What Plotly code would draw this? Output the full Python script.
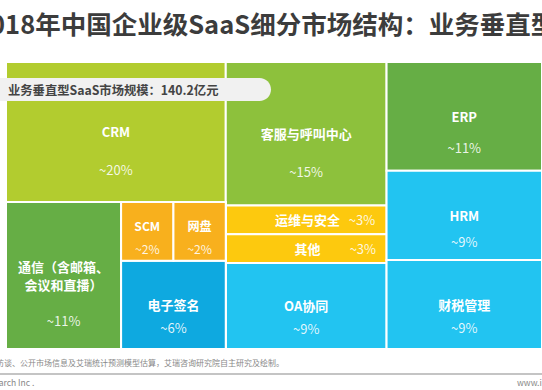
import plotly.graph_objects as go

W, H = 542, 390

# ---------------- data ----------------
cell_names = ["CRM", "客服与呼叫中心", "ERP", "HRM", "通信（含邮箱、会议和直播）",
              "SCM", "网盘", "电子签名", "运维与安全", "其他", "OA协同", "财税管理"]
cell_shares = [20, 15, 11, 9, 11, 2, 2, 6, 3, 3, 9, 9]
cell_parents = ["c1", "c2", "c3", "c3", "c1b", "c1d", "c1d", "c1c", "c2", "c2", "c2", "c3"]

# grouping nodes used to reproduce the hand-made layout (values = sum of children)
group_ids = ["total", "c1", "c1b", "c1c", "c1d", "c2", "c3"]
group_parents = ["", "total", "c1", "c1b", "c1c", "total", "total"]

# order in which the tiles are laid out (left->right, top->bottom)
layout_order = ["total", "c1", "CRM", "c1b", "通信（含邮箱、会议和直播）", "c1c", "c1d",
                "SCM", "网盘", "电子签名", "c2", "客服与呼叫中心", "运维与安全", "其他",
                "OA协同", "c3", "ERP", "HRM", "财税管理"]

title_text = "2018年中国企业级SaaS细分市场结构：业务垂直型SaaS"
badge_text = "业务垂直型SaaS市场规模：140.2亿元"
source_text = "来源：艾瑞咨询根据企业访谈、公开市场信息及艾瑞统计预测模型估算，艾瑞咨询研究院自主研究及绘制。"

# ---------------- styles ----------------
LIME = "#B2CC2F"
YGREEN = "#8DC13C"
GREEN = "#66AE45"
ORANGE = "#F8B01D"
YELLOW = "#FDC90E"
BLUE = "#0EA9E0"
CYAN = "#22C4F1"
cell_colors = [LIME, YGREEN, GREEN, CYAN, GREEN, ORANGE, ORANGE, BLUE, YELLOW, YELLOW, CYAN, CYAN]
# base font size per cell -> controls line spacing between label and value
cell_base = [14.6, 14.6, 11.9, 10, 13.8, 9.6, 9.6, 8.85, 13, 13, 8.85, 8.85]
# invisible leading lines -> pushes the text block below the tile centre
cell_lead = [2, 2, 2, 2, 2, 1, 1, 2, 0, 0, 2, 2]
LAB = 13
NB = "\u00a0"
FILL = f"<span style='font-size:{LAB}px;color:rgba(0,0,0,0)'>.</span><br>"


def cell_text(name, share, lead):
    val = f"<span style='font-size:{LAB}px;color:rgba(255,255,255,0.88)'>~{share}%</span>"
    if name == "运维与安全":
        return NB * 13 + f"<span style='font-size:{LAB}px'><b>{name}</b></span>" + NB * 3 + val
    if name == "其他":
        return NB * 20 + f"<span style='font-size:{LAB}px'><b>{name}</b></span>" + NB * 10 + val
    pre = FILL * lead
    if "、" in name:
        a, b = name.split("、")
        return (pre + f"<span style='font-size:{LAB}px'><b>{a}、</b></span><br>"
                f"<span style='font-size:{LAB}px'><b>{b}</b></span><br><br>" + val)
    return pre + f"<span style='font-size:{LAB}px'><b>{name}</b></span><br><br>" + val


node = {}
for g, p in zip(group_ids, group_parents):
    node[g] = dict(parent=p, value=0, text="", color="#FFFFFF", size=10)
for n, s, p, c, b, ld in zip(cell_names, cell_shares, cell_parents, cell_colors, cell_base, cell_lead):
    node[n] = dict(parent=p, value=s, text=cell_text(n, s, ld), color=c, size=b)

ids = layout_order
fig = go.Figure(go.Treemap(
    ids=ids,
    labels=ids,
    parents=[node[i]["parent"] for i in ids],
    values=[node[i]["value"] for i in ids],
    branchvalues="remainder",
    sort=False,
    text=[node[i]["text"] for i in ids],
    texttemplate="%{text}",
    textposition="middle center",
    textfont=dict(family="Noto Sans CJK SC", color="white", size=[node[i]["size"] for i in ids]),
    marker=dict(colors=[node[i]["color"] for i in ids], line=dict(color="white", width=2),
                pad=dict(t=0, l=0, r=0, b=0)),
    tiling=dict(packing="slice-dice", pad=0),
    pathbar=dict(visible=False),
    hoverinfo="skip",
    domain=dict(x=[6 / W, 1], y=[(H - 349) / H, (H - 62) / H]),
))


def px(x):
    return x / W


def py(y):
    return 1 - y / H


# rounded badge
x0, x1, y0, y1, r = -2, 271, 78, 101, 11.5
k = 0.552 * r
path = (f"M {px(x0)},{py(y0)} L {px(x1 - r)},{py(y0)} "
        f"C {px(x1 - r + k)},{py(y0)} {px(x1)},{py(y0 + r - k)} {px(x1)},{py(y0 + r)} "
        f"C {px(x1)},{py(y1 - r + k)} {px(x1 - r + k)},{py(y1)} {px(x1 - r)},{py(y1)} "
        f"L {px(x0)},{py(y1)} Z")

fig.update_layout(
    width=W, height=H,
    margin=dict(l=0, r=0, t=0, b=0),
    paper_bgcolor="white",
    font=dict(family="Noto Sans CJK SC"),
    showlegend=False,
    shapes=[
        dict(type="path", path=path, xref="paper", yref="paper",
             fillcolor="#F1F1F1", line=dict(width=0), layer="above"),
        dict(type="line", xref="paper", yref="paper", x0=0, x1=1, y0=py(374), y1=py(374),
             line=dict(color="#C4C4C4", width=2)),
    ],
    annotations=[
        dict(text=f"<b>{title_text}</b>", x=px(-27), y=py(22), xref="paper", yref="paper",
             xanchor="left", yanchor="middle", showarrow=False,
             font=dict(size=25.5, color="#3C3C3C", family="Noto Sans CJK SC")),
        dict(text=f"<b>{badge_text}</b>", x=px(6), y=py(90), xref="paper", yref="paper",
             xanchor="left", yanchor="middle", showarrow=False,
             font=dict(size=12.3, color="#444444", family="Noto Sans CJK SC")),
        dict(text=source_text, x=px(286), y=py(362), xref="paper", yref="paper",
             xanchor="right", yanchor="middle", showarrow=False,
             font=dict(size=8, color="#888888", family="Noto Sans CJK SC")),
        dict(text="© 2019.3 iResearch Inc .", x=px(36), y=py(382), xref="paper", yref="paper",
             xanchor="right", yanchor="middle", showarrow=False,
             font=dict(size=8.5, color="#888888", family="Noto Sans CJK SC")),
        dict(text="www.iresearch.com.cn", x=px(515), y=py(382), xref="paper", yref="paper",
             xanchor="left", yanchor="middle", showarrow=False,
             font=dict(size=8.5, color="#888888", family="Noto Sans CJK SC")),
    ],
)

fig.write_html("out.html", config={"displayModeBar": False},
               post_script="document.body.style.margin='0px';document.body.style.overflow='hidden';")
